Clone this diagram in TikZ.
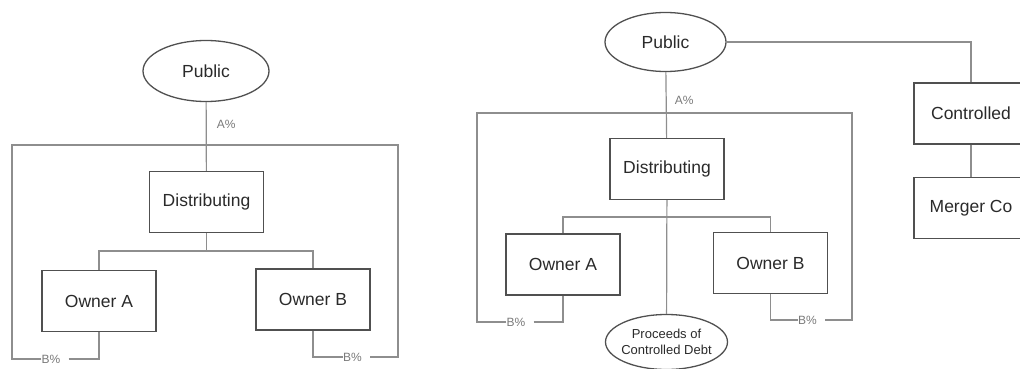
\documentclass[tikz,border=0pt]{standalone}
\usepackage{fontspec}
\setmainfont{Liberation Sans}
\usepackage{tikz}
\usepackage{xcolor}
\usetikzlibrary{positioning,calc,shapes.geometric}
\definecolor{boxgray}{HTML}{505050}
\definecolor{wiregray}{HTML}{8E8E8E}
\definecolor{textgray}{HTML}{2A2A2A}
\definecolor{pctgray}{HTML}{7A7A7A}
\tikzset{
  ent/.style={draw=boxgray, line width=1.3pt, text=textgray, inner sep=0pt,
    font=\fontsize{17.5}{20}\selectfont, minimum width=114pt, minimum height=61pt},
  pty/.style={ellipse, draw=boxgray, line width=1.3pt, text=textgray, inner sep=0pt,
    font=\fontsize{17.5}{20}\selectfont},
  wire/.style={draw=wiregray, line width=1.2pt},
  pct/.style={text=pctgray, inner sep=0pt, font=\fontsize{12}{14}\selectfont}
}
\newcommand{\bnode}[3]{\node [ent] (#1) at (#2) {#3}}
\newcommand{\enode}[4][]{\node [pty,#1] (#2) at (#3) {#4}}
\newcommand{\pnode}[2]{\node [pct] (#1) at (#2) {B\%}}

\begin{document}
\begin{tikzpicture}[x=1pt,y=-1pt]
\useasboundingbox (0,0) rectangle (1020,369);
\clip (0,0) rectangle (1020,369);

\enode[minimum width=126pt, minimum height=61pt]{PUB1}{206,71}{Public};
\bnode{DIST1}{206.5,202}{Distributing};
\bnode{OWNA1}{99,301}{Owner A};
\bnode{OWNB1}{313,299.5}{Owner B};
\pnode{BA1}{51,359};
\pnode{BB1}{352.5,357};
\coordinate (TL1) at (12,145);
\coordinate (TR1) at (398,145);
\coordinate (J1) at (206.5,251);

\draw[wire] (PUB1) -- (DIST1) node [pos=0.33, right=10pt, pct] {A\%};
\draw[wire] (DIST1) -- (J1) -| (OWNA1);
\draw[wire] (J1) -| (OWNB1);
\draw[wire] ([xshift=8pt]BA1.east) -| (OWNA1);
\draw[wire] (BA1.west) -| (TL1) -- (TR1) |- ([xshift=8pt]BB1.east);
\draw[wire] (OWNB1) |- (BB1.west);

\enode[minimum width=121pt, minimum height=59pt]{PUB2}{665.5,42}{Public};
\bnode{DIST2}{667,169}{Distributing};
\bnode{OWNA2}{563,264.5}{Owner A};
\bnode{OWNB2}{770.5,263}{Owner B};
\enode[minimum width=122pt, minimum height=55pt, inner xsep=-6pt, align=center,
  font=\fontsize{13}{16}\selectfont]{PROC}{666.5,342}{Proceeds of\\Controlled Debt};
\bnode{CTRL}{971,113.5}{Controlled};
\bnode{MERG}{971,208}{Merger Co};
\pnode{BA2}{516,322};
\pnode{BB2}{807.5,320};
\coordinate (TL2) at (477,113);
\coordinate (TR2) at (852,113);
\coordinate (J2) at (667,217);

\draw[wire] (PUB2) -- (DIST2) node [pos=0.43, right=8pt, pct] {A\%};
\draw[wire] (PUB2) -| (CTRL);
\draw[wire] (CTRL) -- (MERG);
\draw[wire] (DIST2) -- (PROC);
\draw[wire] (J2) -| (OWNA2);
\draw[wire] (J2) -| (OWNB2);
\draw[wire] ([xshift=8pt]BA2.east) -| (OWNA2);
\draw[wire] (BA2.west) -| (TL2) -- (TR2) |- ([xshift=8pt]BB2.east);
\draw[wire] (OWNB2) |- (BB2.west);

\end{tikzpicture}
\end{document}
